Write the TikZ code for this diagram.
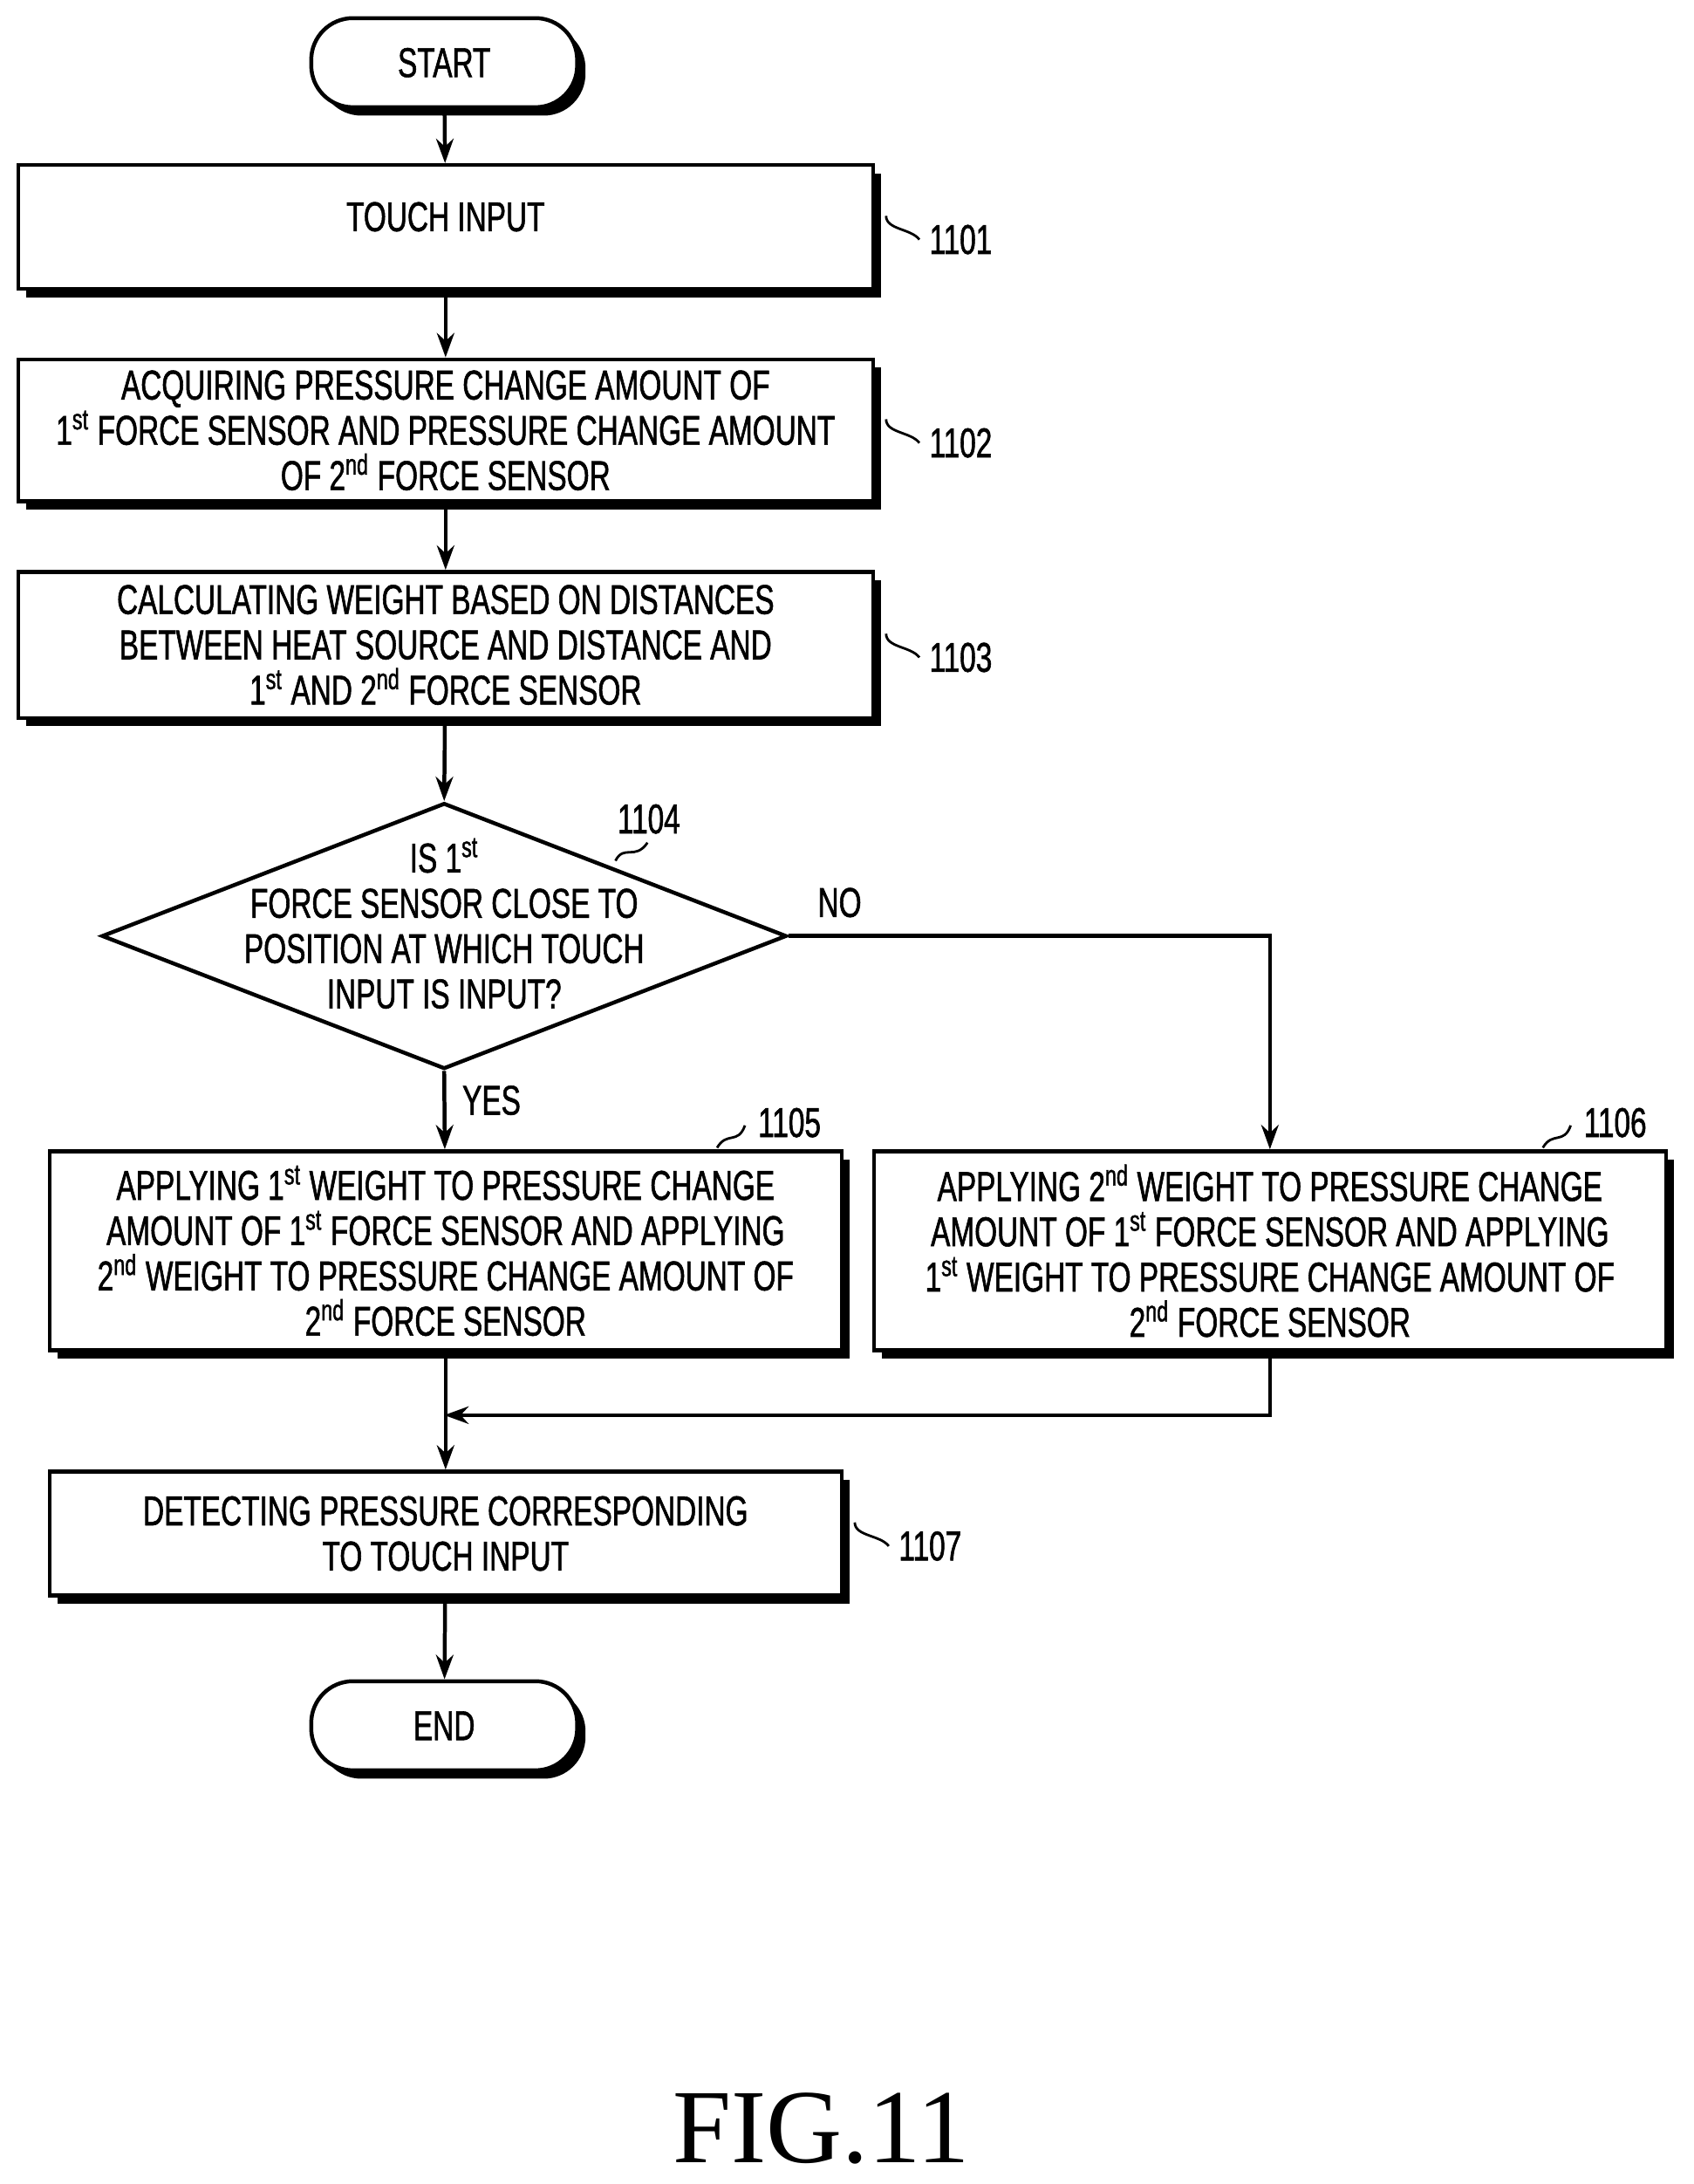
\documentclass[tikz,border=0pt]{standalone}
\usepackage{fontspec}
\setmainfont{Liberation Sans}[FakeStretch=0.7,FakeBold=1.2]
\newfontfamily\figfont{Liberation Serif}
\usetikzlibrary{shapes.geometric,shadows,arrows.meta,calc}
\begin{document}
\begin{tikzpicture}[x=0.02cm,y=-0.02cm,line width=1.6pt,
  >={Stealth[length=0.35cm,width=0.25cm]},
  every node/.style={font=\fontsize{17}{18.5}\selectfont},
  sh/.style={drop shadow={opacity=1,fill=black,shadow xshift=0.12cm,shadow yshift=-0.12cm}},
  box/.style={draw,fill=white,sh,align=center,inner sep=2pt},
  term/.style={draw,fill=white,sh,rounded corners=0.6cm,minimum width=3.82cm,minimum height=1.28cm},
  lab/.style={font=\fontsize{17}{19}\selectfont}]
\useasboundingbox (0,0) rectangle (1216,1568);
\node[term] (start) at (319,45) {START};
\node[box,minimum width=12.28cm,minimum height=1.78cm] (b1) at (320,163) {\raisebox{0.3cm}{TOUCH INPUT}};
\node[box,minimum width=12.28cm,minimum height=2.04cm] (b2) at (320,309) {ACQUIRING PRESSURE CHANGE AMOUNT OF\\1\textsuperscript{st} FORCE SENSOR AND PRESSURE CHANGE AMOUNT\\OF 2\textsuperscript{nd} FORCE SENSOR};
\node[box,minimum width=12.28cm,minimum height=2.1cm] (b3) at (320,463) {CALCULATING WEIGHT BASED ON DISTANCES\\BETWEEN HEAT SOURCE AND DISTANCE AND\\1\textsuperscript{st} AND 2\textsuperscript{nd} FORCE SENSOR};
\node[draw,diamond,aspect=2.58,inner sep=0pt,minimum width=9.84cm,minimum height=3.82cm,fill=white] (d) at (319,672) {};
\node[align=center] (dt) at (319,663) {IS 1\textsuperscript{st}\\FORCE SENSOR CLOSE TO\\POSITION AT WHICH TOUCH\\INPUT IS INPUT?};
\node[box,minimum width=11.38cm,minimum height=2.86cm] (b5) at (320,898) {APPLYING 1\textsuperscript{st} WEIGHT TO PRESSURE CHANGE\\AMOUNT OF 1\textsuperscript{st} FORCE SENSOR AND APPLYING\\2\textsuperscript{nd} WEIGHT TO PRESSURE CHANGE AMOUNT OF\\2\textsuperscript{nd} FORCE SENSOR};
\node[box,minimum width=11.38cm,minimum height=2.86cm] (b6) at (912,898) {APPLYING 2\textsuperscript{nd} WEIGHT TO PRESSURE CHANGE\\AMOUNT OF 1\textsuperscript{st} FORCE SENSOR AND APPLYING\\1\textsuperscript{st} WEIGHT TO PRESSURE CHANGE AMOUNT OF\\2\textsuperscript{nd} FORCE SENSOR};
\node[box,minimum width=11.38cm,minimum height=1.78cm] (b7) at (320,1101) {DETECTING PRESSURE CORRESPONDING\\TO TOUCH INPUT};
\node[term] (end) at (319,1239) {END};
% labels
\node[lab] (l1) at (690,172) {1101};
\node[lab] (l2) at (690,318) {1102};
\node[lab] (l3) at (690,472) {1103};
\node[lab] (l4) at (466,588) {1104};
\node[lab] (l5) at (567,806) {1105};
\node[lab] (l6) at (1160,806) {1106};
\node[lab] (l7) at (668,1110) {1107};
\node (no) at (603,648) {NO};
\node (yes) at (353,790) {YES};
\node[font=\figfont\fontsize{43}{48}\selectfont] (fig) at (590,1528) {FIG.11};
\tikzset{sq/.style={line width=1pt}}
\foreach \b/\l in {b1/l1,b2/l2,b3/l3,b7/l7}{
  \draw[sq] ($(\b.east)+(8,0)+(0,-8)$) .. controls +(0,10) and +(-6,-8) .. ($(\l.west)$);}
\draw[sq] (442,618) .. controls (448,606) and (456,618) .. (465,605);
\draw[sq] (515,824) .. controls (522,812) and (530,822) .. (535,808);
\draw[sq] (1108,824) .. controls (1115,812) and (1123,822) .. (1128,808);
% connectors
\draw[->] (start) -- (b1);
\draw[->] (b1) -- (b2);
\draw[->] (b2) -- (b3);
\draw[->] (b3) -- (d.north);
\draw[->] (d.south) -- (b5);
\draw[->] (d.east) -| (b6.north);
\draw[->] (b5) -- (b7);
\coordinate (m) at (319,1016);
\draw[->] (b6.south) |- (m);
\draw[->] (b7) -- (end);
\end{tikzpicture}
\end{document}
